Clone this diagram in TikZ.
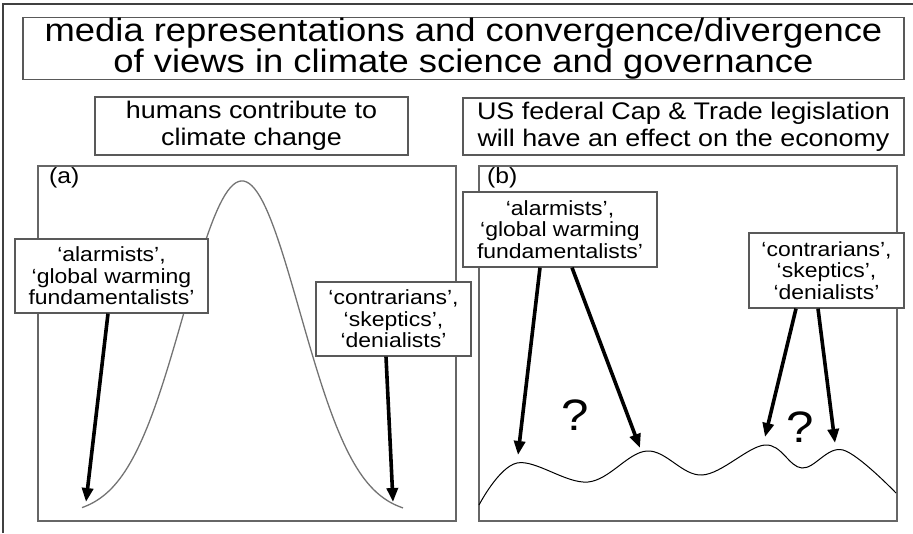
\documentclass[tikz,border=0pt]{standalone}
\usepackage{fontspec}
\setmainfont[FakeStretch=1.12]{Liberation Sans}
\usetikzlibrary{arrows.meta}

\begin{document}
\begin{tikzpicture}[x=1pt,y=-1pt]

	\tikzset{
		box/.style={draw=black!65,line width=1.2pt,fill=white,inner sep=0pt,align=center},
		label/.style={box,font=\fontsize{20.5}{21.5}\selectfont},
		panel/.style={draw=black!60,line width=1.5pt,inner sep=0pt},
		tag/.style={anchor=base west,inner sep=0pt,font=\fontsize{22}{22}\selectfont},
		pointer/.style={line width=3.6pt,-{Triangle[length=14pt,width=11pt]}},
		query/.style={inner sep=0pt,font=\fontsize{44}{44}\selectfont},
	}

	\useasboundingbox (0,0) rectangle (913,533);

	% outer frame (cut off at right and bottom)
	\draw[black!75,line width=2pt] (3,533) -- (3,4) -- (913,4);

	% headings
	\node[box,minimum width=881,minimum height=61,font=\fontsize{32.5}{30}\selectfont] (title) at (463.5,48.5)
		{media representations and convergence/divergence\\of views in climate science and governance};
	\node[box,minimum width=313,minimum height=58,font=\fontsize{24}{27}\selectfont] (headA) at (251.5,126)
		{humans contribute to\\climate change};
	\node[box,minimum width=441,minimum height=57,font=\fontsize{24}{27}\selectfont] (headB) at (683.5,126.5)
		{US federal Cap \& Trade legislation\\will have an effect on the economy};

	% panel (a)
	\node[panel,minimum width=418,minimum height=355] (panelA) at (247,343.5) {};
	\node[tag] (tagA) at (49,183) {(a)};
	\draw[black!55,line width=1.3pt,domain=82:403,samples=120]
		plot (\x,{515-334*exp(-((\x-242)/58)*((\x-242)/58)/2)});

	\node[label,minimum width=193,minimum height=74] (alarmA) at (111.5,276)
		{‘alarmists’,\\‘global warming\\fundamentalists’};
	\node[label,minimum width=155,minimum height=74] (contraA) at (393.5,319)
		{‘contrarians’,\\‘skeptics’,\\‘denialists’};

	\coordinate (lowA1) at (86,502);
	\coordinate (lowA2) at (393,502);
	\draw[pointer] ([xshift=-3.5]alarmA.south) -- (lowA1);
	\draw[pointer] ([xshift=-7.5]contraA.south) -- (lowA2);

	% panel (b)
	\node[panel,minimum width=418,minimum height=355] (panelB) at (688,343.5) {};
	\node[tag] (tagB) at (487,183) {(b)};
	\draw[black,line width=1pt] plot[smooth,tension=0.6] coordinates
		{(479,505) (517,463) (588,482) (647,451) (702,475) (765,445) (802,468) (843,450) (896,493)};

	\node[label,minimum width=194,minimum height=75] (alarmB) at (560,229.5)
		{‘alarmists’,\\‘global warming\\fundamentalists’};
	\node[label,minimum width=155,minimum height=75] (contraB) at (826.5,270.5)
		{‘contrarians’,\\‘skeptics’,\\‘denialists’};

	\node[query] (qA) at (575,415) {?};
	\node[query] (qB) at (800,427) {?};

	\coordinate (lowB1) at (518,455);
	\coordinate (lowB2) at (640,448);
	\coordinate (lowB3) at (765,437);
	\coordinate (lowB4) at (835,443);
	\foreach \src/\shift/\dst in {alarmB/-20/lowB1, alarmB/12/lowB2, contraB/-30.5/lowB3, contraB/-8.5/lowB4}
		\draw[pointer] ([xshift=\shift]\src.south) -- (\dst);

\end{tikzpicture}
\end{document}
